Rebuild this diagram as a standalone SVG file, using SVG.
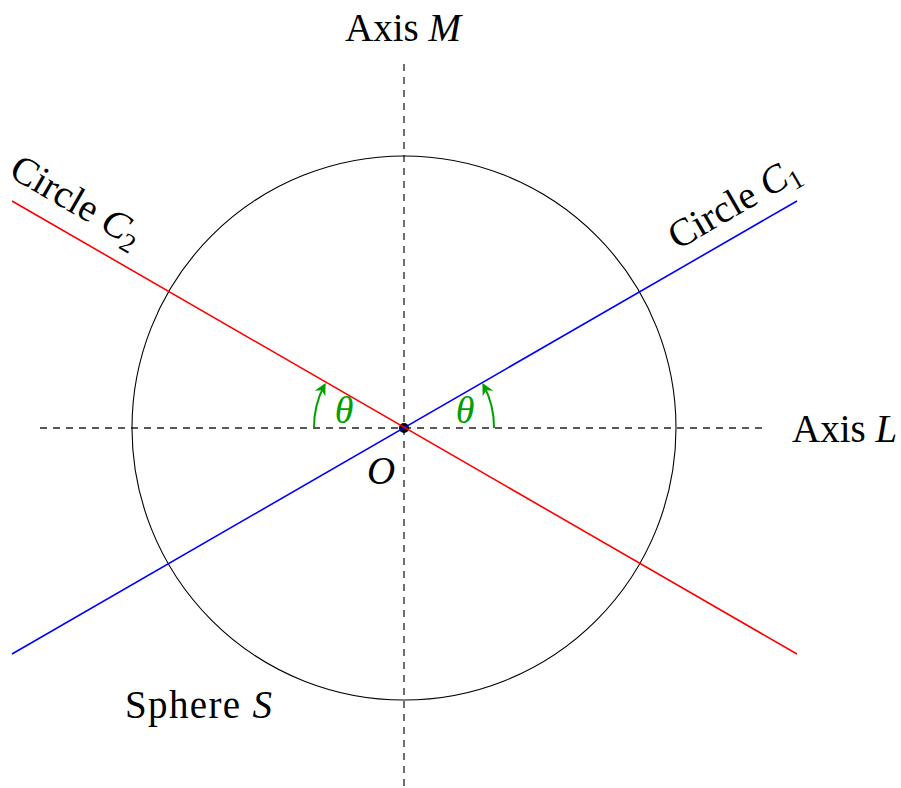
<svg xmlns="http://www.w3.org/2000/svg" width="901" height="788" viewBox="0 0 901 788">
<defs>
<style>
.txt{font-family:"Liberation Serif","DejaVu Serif",serif;font-size:39px;fill:#000}
.it{font-style:italic}
.axis{stroke:#222;stroke-width:1.3;stroke-dasharray:7 6;fill:none}
.ang{stroke:#00a000;stroke-width:2;fill:none}
.gt{font-family:"Liberation Serif","DejaVu Serif",serif;font-size:38px;font-style:italic;fill:#00a000}
</style>
<marker id="ah" viewBox="0 0 10 10" refX="8" refY="5" markerWidth="6" markerHeight="6" orient="auto" markerUnits="strokeWidth">
<path d="M0,0 L10,5 L0,10 L3,5 Z" fill="#00a000"/>
</marker>
</defs>
<rect width="901" height="788" fill="#fff"/>
<g id="connectors">
<line class="axis" x1="40" y1="428" x2="768" y2="428"/>
<line class="axis" x1="404" y1="64" x2="404" y2="788"/>
</g>
<g id="sphere">
<circle cx="404" cy="428" r="272" fill="none" stroke="#000" stroke-width="1.1"/>
<text class="txt" x="125" y="718" textLength="147">Sphere <tspan class="it">S</tspan></text>
</g>
<g id="origin">
<circle cx="404" cy="428" r="5" fill="#000"/>
<text class="txt it" x="381" y="484" text-anchor="middle">O</text>
</g>
<g id="circle-c1">
<line x1="12" y1="654" x2="797" y2="201" stroke="#0000ff" stroke-width="1.6"/>
<text class="txt" transform="rotate(-30 740 214)" x="740" y="214" text-anchor="middle">Circle <tspan class="it">C</tspan><tspan font-size="27" dy="7">1</tspan></text>
</g>
<g id="circle-c2">
<line x1="12" y1="201" x2="797" y2="654" stroke="#ff0000" stroke-width="1.6"/>
<text class="txt" transform="rotate(30 70 212)" x="70" y="212" text-anchor="middle">Circle <tspan class="it">C</tspan><tspan font-size="27" dy="7">2</tspan></text>
</g>
<g id="axis-m">
<text class="txt" x="403" y="41" text-anchor="middle">Axis <tspan class="it">M</tspan></text>
</g>
<g id="axis-l">
<text class="txt" x="792" y="442">Axis <tspan class="it">L</tspan></text>
</g>
<g id="angles">
<path class="ang" d="M494,428 A90,90 0 0 0 483.5,385" marker-end="url(#ah)"/>
<path class="ang" d="M314,428 A90,90 0 0 1 324.5,385" marker-end="url(#ah)"/>
<text class="gt" x="465" y="423" text-anchor="middle">θ</text>
<text class="gt" x="344" y="423" text-anchor="middle">θ</text>
</g>
</svg>
